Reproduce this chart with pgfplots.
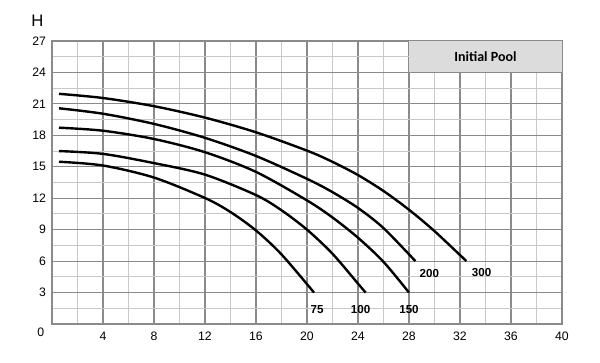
\documentclass[border=0pt]{standalone}
\usepackage{pgfplots}
\pgfplotsset{compat=1.18}
\usepackage{fontspec}
\setmainfont{Liberation Sans}
\newfontfamily\carlito{Carlito}
\definecolor{majgrid}{HTML}{8A8A8A}
\definecolor{mingrid}{HTML}{C8C8C8}
\definecolor{boxfill}{HTML}{DCDCDC}
\begin{document}
\begin{tikzpicture}
\useasboundingbox (0,0) rectangle (450pt,272.25pt);
\begin{axis}[
  at={(39pt,29.25pt)}, anchor=south west,
  scale only axis, width=382.5pt, height=212.25pt,
  xmin=0, xmax=40, ymin=0, ymax=27,
  xtick={4,8,...,40}, ytick={3,6,...,27},
  minor xtick={2,6,...,38}, minor ytick={1.5,4.5,...,25.5},
  grid=both,
  major grid style={majgrid, line width=0.9pt},
  minor grid style={mingrid, line width=0.7pt},
  major tick length=0pt, minor tick length=0pt,
  axis line style={majgrid, line width=1.2pt},
  tick label style={font=\fontsize{9.2}{11}\selectfont},
  /pgf/number format/assume math mode=true,
  xticklabel style={yshift=-2.5pt},
  yticklabel style={xshift=-1pt},
  clip=false,
]
\fill[boxfill] (axis cs:28,24) rectangle (axis cs:40,27);
\draw[majgrid, line width=0.9pt] (axis cs:28,24) -- (axis cs:40,24);
\node[font=\carlito\bfseries\fontsize{10.5}{12}\selectfont] at (axis cs:34,25.5) {Initial Pool};

\addplot[black, line width=1.8pt, smooth] coordinates {
(0.55,21.96) (4,21.56) (8,20.78) (12,19.69) (16,18.29) (20,16.54) (22,15.47) (24,14.21) (26,12.69) (28,10.9) (30,8.86) (32.5,6.0)};
\addplot[black, line width=1.8pt, smooth] coordinates {
(0.55,20.58) (4,20.06) (8,19.09) (12,17.76) (16,16.03) (20,13.85) (22,12.58) (24,11.07) (26,9.15) (28.5,6.0)};
\addplot[black, line width=1.8pt, smooth] coordinates {
(0.55,18.73) (4,18.44) (8,17.65) (12,16.39) (16,14.51) (20,11.79) (22,10.16) (24,8.23) (26,5.93) (28,3.0)};
\addplot[black, line width=1.8pt, smooth] coordinates {
(0.55,16.5) (4,16.23) (8,15.35) (12,14.25) (16,12.3) (18,10.85) (20,9.0) (22,6.7) (24,3.85) (24.6,3.0)};
\addplot[black, line width=1.8pt, smooth] coordinates {
(0.55,15.48) (4,15.12) (8,13.97) (12,12.02) (14,10.68) (16,8.92) (18,6.64) (20.55,3.0)};

\node[font=\bfseries\fontsize{8.7}{10}\selectfont] at (axis cs:20.8,1.4) {75};
\node[font=\bfseries\fontsize{8.7}{10}\selectfont] at (axis cs:24.2,1.4) {100};
\node[font=\bfseries\fontsize{8.7}{10}\selectfont] at (axis cs:28.0,1.4) {150};
\node[font=\bfseries\fontsize{8.7}{10}\selectfont] at (axis cs:29.6,4.8) {200};
\node[font=\bfseries\fontsize{8.7}{10}\selectfont] at (axis cs:33.7,4.9) {300};

\node[font=\fontsize{9.2}{11}\selectfont] at ([xshift=-8.5pt,yshift=-6pt]axis cs:0,0) {0};
\node[font=\fontsize{12.5}{14}\selectfont] at ([xshift=-11pt,yshift=15pt]axis cs:0,27) {H};
\end{axis}
\end{tikzpicture}
\end{document}
